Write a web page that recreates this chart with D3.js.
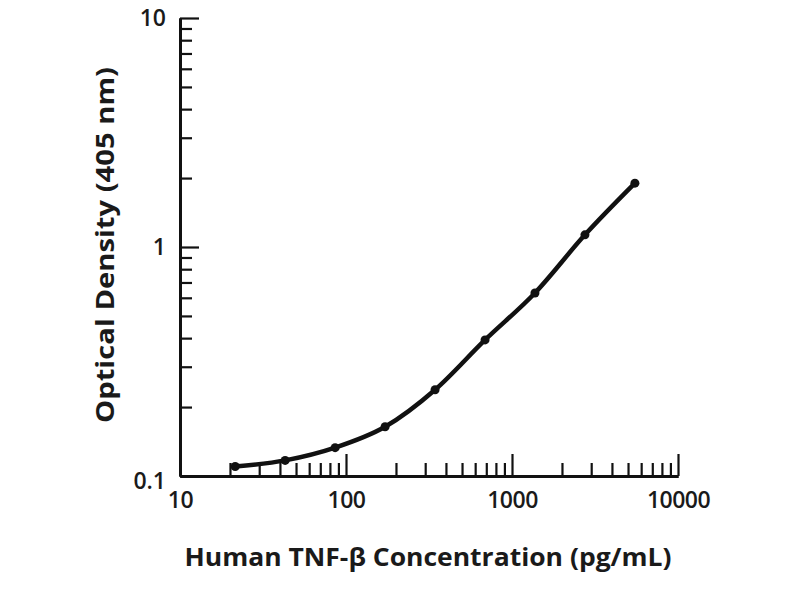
<!DOCTYPE html>
<html>
<head>
<meta charset="utf-8">
<script src="https://cdn.jsdelivr.net/npm/d3@7/dist/d3.min.js"></script>
<style>
  html, body { margin: 0; padding: 0; background: #fff; }
  svg { display: block; }
  text { font-family: "Open Sans", "DejaVu Sans", sans-serif; fill: #1a1a1a; }
</style>
</head>
<body>
<svg id="chart" width="800" height="600"></svg>
<script>
// Data
const concentrations = [21.5, 43, 86, 172, 344, 688, 1375, 2750, 5500];
const opticalDensity = [0.110, 0.117, 0.133, 0.164, 0.238, 0.393, 0.63, 1.13, 1.90];
const xMajorTicks = [10, 100, 1000, 10000];
const xTickLabels = ["10", "100", "1000", "10000"];
const yMajorTicks = [0.1, 1, 10];
const yTickLabels = ["0.1", "1", "10"];
const xMinorTicks = [20,30,40,50,60,70,80,90,200,300,400,500,600,700,800,900,2000,3000,4000,5000,6000,7000,8000,9000];
const yMinorTicks = [0.2,0.3,0.4,0.5,0.6,0.7,0.8,0.9,2,3,4,5,6,7,8,9];
const xTitle = "Human TNF-β Concentration (pg/mL)";
const yTitle = "Optical Density (405 nm)";

const svg = d3.select("#chart");
const x = d3.scaleLog().domain([10, 10000]).range([180, 678]);
const y = d3.scaleLog().domain([0.1, 10]).range([476, 18]);

// X axis: major ticks with labels, pointing upward (inside)
const xAxisMajor = d3.axisBottom(x).tickValues(xMajorTicks)
  .tickFormat((d, i) => xTickLabels[i]).tickSizeInner(-22).tickSizeOuter(0).tickPadding(16);
const gx = svg.append("g").attr("transform", `translate(0,${y(0.1)})`).call(xAxisMajor);
const xAxisMinor = d3.axisBottom(x).tickValues(xMinorTicks).tickFormat("").tickSizeInner(-13).tickSizeOuter(0);
const gx2 = svg.append("g").attr("transform", `translate(0,${y(0.1)})`).call(xAxisMinor);

// Y axis
const yAxisMajor = d3.axisLeft(y).tickValues(yMajorTicks)
  .tickFormat((d, i) => yTickLabels[i]).tickSizeInner(-19).tickSizeOuter(0).tickPadding(14);
const gy = svg.append("g").attr("transform", `translate(${x(10)},0)`).call(yAxisMajor);
const yAxisMinor = d3.axisLeft(y).tickValues(yMinorTicks).tickFormat("").tickSizeInner(-12).tickSizeOuter(0);
const gy2 = svg.append("g").attr("transform", `translate(${x(10)},0)`).call(yAxisMinor);

[gx, gx2, gy, gy2].forEach(g => {
  g.attr("font-size", null).attr("font-family", null);
  g.select(".domain").attr("stroke", "#111").attr("stroke-width", 3);
  g.selectAll(".tick line").attr("stroke", "#111").attr("stroke-width", 2.2);
  g.selectAll(".tick text").attr("fill", "#1a1a1a")
    .style("font-family", '"Open Sans", sans-serif').style("font-size", "23px").style("font-weight", 600);
});
gx.selectAll(".tick text").attr("letter-spacing", "-0.5px");
gy.selectAll(".tick text").filter(d => d === 0.1).attr("dy", "0.55em");

// Curve
const pts = concentrations.map((c, i) => [c, opticalDensity[i]]);
svg.append("path").datum(pts)
  .attr("d", d3.line().x(d => x(d[0])).y(d => y(d[1])).curve(d3.curveMonotoneX))
  .attr("fill", "none").attr("stroke", "#111").attr("stroke-width", 4.5).attr("stroke-linejoin", "round");

svg.append("g").selectAll("circle").data(pts).join("circle")
  .attr("cx", d => x(d[0])).attr("cy", d => y(d[1])).attr("r", 4.5).attr("fill", "#111");

// Titles
svg.append("text").attr("x", 428).attr("y", 566).attr("text-anchor", "middle")
  .attr("textLength", 487).attr("lengthAdjust", "spacingAndGlyphs")
  .style("font-size", "25px").style("font-weight", 700).text(xTitle);

svg.append("text").attr("transform", "translate(114,245) rotate(-90)").attr("text-anchor", "middle")
  .attr("textLength", 356).attr("lengthAdjust", "spacingAndGlyphs")
  .style("font-size", "25px").style("font-weight", 700).text(yTitle);
</script>
</body>
</html>
